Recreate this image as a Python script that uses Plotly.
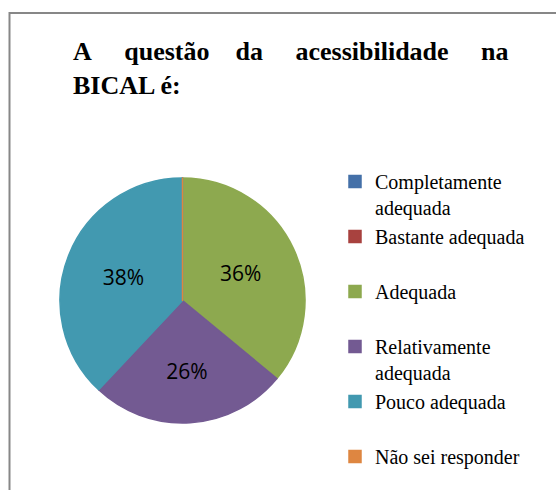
import plotly.graph_objects as go

categories = ["Completamente<br>adequada", "Bastante adequada<br>\u00a0", "Adequada<br>\u00a0",
              "Relativamente<br>adequada", "Pouco adequada<br>\u00a0", "Não sei responder"]
values = [0, 0, 36, 26, 38, 0]
colors = ["#4470A8", "#A8423F", "#8DA94F", "#735A92", "#4299B0", "#DE8641"]

W, H = 556, 490
fig = go.Figure(go.Pie(
    labels=categories, values=values, sort=False, direction="clockwise", rotation=0,
    marker=dict(colors=colors, line=dict(width=1.5, color=colors)),
    textinfo="percent", textposition="inside",
    insidetextfont=dict(family="Open Sans", size=21, color="black"),
    domain=dict(x=[60 / W, 305 / W], y=[1 - 423 / H, 1 - 178 / H]),
    hoverinfo="label+percent",
))

s5 = "\u00a0" * 5
s4 = "\u00a0" * 4
title = "A" + s5 + "questão" + s4 + "da" + s5 + "acessibilidade" + s4 + "\u00a0na<br>BICAL é:"

fig.update_layout(
    width=W, height=H, margin=dict(l=0, r=0, t=0, b=0),
    paper_bgcolor="white", plot_bgcolor="white",
    annotations=[dict(text="<b>" + title + "</b>", xref="paper", yref="paper",
                      x=71 / W, y=1 - 35 / H, xanchor="left", yanchor="top", align="left",
                      showarrow=False, font=dict(family="Liberation Serif", size=26, color="black"))],
    legend=dict(x=335 / W, y=1 - 162 / H, xanchor="left", yanchor="top",
                font=dict(family="Liberation Serif", size=20, color="black"),
                valign="top", bgcolor="rgba(0,0,0,0)", traceorder="normal"),
    shapes=[dict(type="rect", xref="paper", yref="paper", x0=9.5 / W, y0=-0.1, x1=1.1, y1=1 - 13 / H,
                 line=dict(color="#878787", width=2), fillcolor="rgba(0,0,0,0)", layer="below")],
)
fig.write_html("out.html", config={"displayModeBar": False},
               post_script="document.body.style.margin='0px';document.body.style.overflow='hidden';")
